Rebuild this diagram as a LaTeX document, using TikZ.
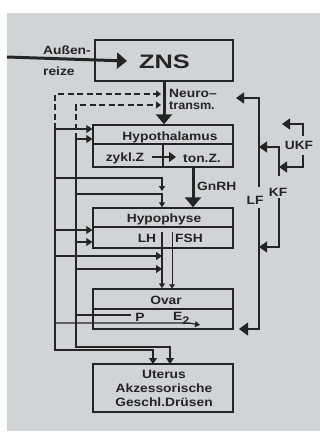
\documentclass[tikz,border=0pt]{standalone}
\usepackage{fontspec}
\setmainfont{Liberation Sans}
\usepackage{graphicx}
\usetikzlibrary{arrows.meta}
\definecolor{bg}{RGB}{209,212,215}
\definecolor{ink}{RGB}{36,36,38}
\newcommand{\wide}[1]{\scalebox{1.15}[1]{#1}}
\begin{document}
\begin{tikzpicture}[x=1pt,y=-1pt,
  box/.style={draw=ink, line width=1.4pt, inner sep=0pt},
  lbl/.style={text=ink, inner sep=0pt, font=\bfseries\fontsize{12}{14}\selectfont},
  conn/.style={draw=ink, line width=1.2pt},
  dpat/.style={dash pattern=on 6pt off 3.5pt},
  sarr/.style={-{Triangle[length=6pt,width=8pt]}},
  tarr/.style={-{Triangle[length=5pt,width=6pt]}},
  bigarr/.style={draw=ink, line width=3pt, -{Triangle[length=10pt,width=16pt]}},
  fb/.style={draw=ink, line width=1.3pt, -{Triangle[length=8pt,width=11pt]}}]
\useasboundingbox (0,0) rectangle (320,432);
\fill[bg] (7,13) rectangle (320,431);

% boxes
\node[box, minimum width=138pt, minimum height=41pt] (zns) at (164,60.5) {};
\node[box, minimum width=140pt, minimum height=42pt] (hth) at (163,146) {};
\node[box, minimum width=140pt, minimum height=40pt] (hyp) at (163,228) {};
\node[box, minimum width=140pt, minimum height=40pt] (ova) at (163,309) {};
\node[box, minimum width=140pt, minimum height=48pt] (ute) at (163,388) {};
\draw[ink, line width=1.4pt] (93,144) -- (233,144);
\draw[ink, line width=1.4pt] (163,144) -- (163,167);
\draw[ink, line width=1.4pt] (93,227) -- (233,227);
\draw[ink, line width=1.4pt] (93,309) -- (233,309);

% texts
\node[lbl, anchor=west] (aus) at (43,50) {\wide{Außen-}};
\node[lbl, anchor=west] (rei) at (43,71.5) {\wide{reize}};
\node[text=ink, inner sep=0pt] (znst) at (164.5,62) {\scalebox{1.3}[1]{\fontsize{19.5}{20}\selectfont\bfseries ZNS}};
\node[lbl, anchor=west] (neu) at (169,93) {\wide{Neuro–}};
\node[lbl, anchor=west] (tra) at (169,106) {\scalebox{1.05}[1]{transm.}};
\node[lbl] (htht) at (170,137) {\wide{Hypothalamus}};
\node[lbl] (zyk) at (125,158) {\wide{zykl.Z}};
\node[lbl] (ton) at (202,158) {\wide{ton.Z.}};
\node[lbl, anchor=west] (gnrh) at (197,186) {\wide{GnRH}};
\node[lbl] (hypt) at (164,219.5) {\wide{Hypophyse}};
\node[lbl] (lh) at (147,238) {\wide{LH}};
\node[lbl] (fsh) at (189,238) {\wide{FSH}};
\node[lbl] (ovt) at (166,300) {\wide{Ovar}};
\node[lbl] (pt) at (140,317) {\wide{P}};
\node[lbl, anchor=base west] (e2t) at (173,320.5) {\wide{E\raisebox{-3.5pt}{\fontsize{11}{11}\selectfont 2}}};
\node[lbl] (lft) at (255,200.5) {\wide{LF}};
\node[lbl] (kft) at (278,192) {\wide{KF}};
\node[lbl] (ukft) at (299,145.5) {\wide{UKF}};
\node[lbl] (ut1) at (164,374) {\wide{Uterus}};
\node[lbl] (ut2) at (164,388) {\wide{Akzessorische}};
\node[lbl] (ut3) at (164,402) {\wide{Geschl.Drüsen}};

% main thick arrows
\coordinate (arS) at (7,57);
\coordinate (arT) at (127,61);
\draw[bigarr] (arS) -- (arT);
\draw[bigarr] (164,81) -- (hth.north -| 164,0);
\draw[bigarr] (193,167) -- (hyp.north -| 193,0);
\draw[ink, line width=2.4pt, -{Triangle[length=7pt,width=10pt]}] (152,157) -- (176,157);

% left buses
\coordinate (e0) at (55,94);  \coordinate (e1) at (55,129); \coordinate (e2) at (55,178);
\coordinate (e3) at (55,230); \coordinate (e4) at (55,256); \coordinate (e5) at (55,323);
\coordinate (e6) at (55,350);
\coordinate (p0) at (76,105); \coordinate (p1) at (76,139); \coordinate (p2) at (76,194);
\coordinate (p3) at (76,242); \coordinate (p4) at (76,269); \coordinate (p5) at (76,315);
\coordinate (p6) at (76,347);
\coordinate (nx) at (161,0);
\coordinate (lhx) at (162,232);
\coordinate (fshx) at (172,232);
\coordinate (a2) at (162,191);
\coordinate (pP) at (131,315);
\coordinate (eE) at (200,325);
\coordinate (u1) at (153,364);
\coordinate (u2) at (170,364);

\draw[conn, dpat, -{Triangle[length=5pt,width=7pt]}] (e1) -- (e0) -- (e0 -| nx);
\draw[conn, dpat, -{Triangle[length=5pt,width=7pt]}] (p1) -- (p0) -- (p0 -| nx);
\draw[conn, sarr] (e1) -- (e6) -| (u1);
\draw[conn, sarr] (p1) -- (p6) -| (u2);
\draw[conn, sarr] (e1) -- (e1 -| hth.west);
\draw[conn, sarr] (p1) -- (p1 -| hth.west);
\draw[conn, tarr] (e2) -| (a2);
\draw[conn, tarr] (p2) -| (lhx |- hyp.north);
\draw[conn, sarr] (e3) -- (e3 -| hyp.west);
\draw[conn, sarr] (p3) -- (p3 -| hyp.west);
\draw[conn, sarr] (e4) -- (e4 -| lhx);
\draw[conn, sarr] (p4) -- (p4 -| lhx);
\draw[conn, tarr] (lhx) -- (lhx |- ova.north);
\draw[draw=ink, line width=0.9pt, -{Triangle[length=4pt,width=6pt]}] (fshx) -- (fshx |- ova.north);
\draw[conn] (p5) -- (pP);
\draw[conn, -{Triangle[length=5pt,width=6pt]}] (e5) -- (189,323) -- (eE);

% right feedback
\coordinate (lfT) at (259,98);  \coordinate (lfB) at (259,329);
\coordinate (kfT) at (279,147); \coordinate (kfB) at (279,247);
\coordinate (ukT) at (303,124); \coordinate (ukB) at (303,167);
\draw[fb] (259,187) -- (lfT) -- (236,98);
\draw[draw=ink, line width=1.3pt, -{Triangle[length=9pt,width=13pt]}] (259,208) -- (lfB) -- (239,329);
\draw[fb] (279,176) -- (kfT) -- (kfT -| lfT);
\draw[fb] (279,198) -- (kfB) -- (kfB -| lfT);
\draw[fb] (303,136) -- (ukT) -- (282,124);
\draw[fb] (303,155) -- (ukB) -- (ukB -| kfT);
\end{tikzpicture}
\end{document}
